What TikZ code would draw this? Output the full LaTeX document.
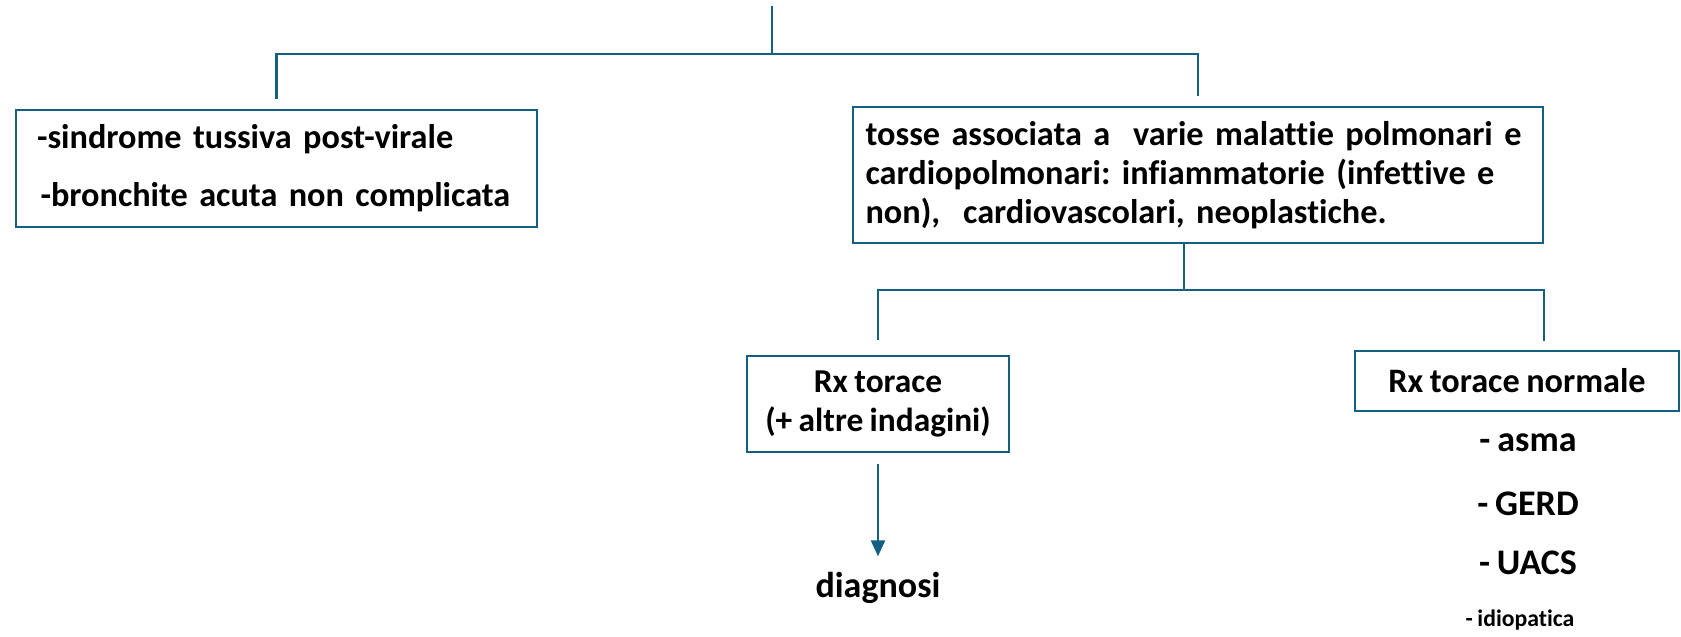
\documentclass[tikz,border=0pt]{standalone}
\usepackage{fontspec}
\setmainfont{Carlito}[Ligatures=NoCommon, WordSpace=0.85]
\frenchspacing
\usetikzlibrary{arrows.meta, positioning}
\definecolor{linea}{HTML}{156082}

\begin{document}
\begin{tikzpicture}[x=0.02cm, y=-0.02cm, line width=1.2pt, draw=linea,
                    >={Triangle[width=8pt, length=9pt]}]
  \tikzstyle{box}=[draw=linea, line width=1.2pt, inner ysep=0pt, text=black]
  \tikzstyle{voce}=[inner sep=0pt, text=black, font=\fontsize{20.5}{22}\selectfont\bfseries]

  \useasboundingbox (0,0) rectangle (1681,636);

  \node[box, minimum height=2.34cm, text width=9.58cm, inner xsep=0.42cm, align=left,
        font=\fontsize{19.5}{33}\selectfont\bfseries] (A) at (276.5,168.5)
       {-sindrome tussiva post-virale\\\hspace{2pt}-bronchite acuta non complicata};
  \node[box, minimum height=2.72cm, text width=13.3cm, inner xsep=0.25cm, align=left,
        font=\fontsize{19.5}{22.2}\selectfont\bfseries] (B) at (1198,175)
       {tosse associata a~ varie malattie polmonari e\\
        cardiopolmonari: infiammatorie (infettive e\\
        non),~ cardiovascolari, neoplastiche.};
  \node[box, minimum width=5.24cm, minimum height=1.92cm, align=center,
        font=\fontsize{19}{22.2}\selectfont\bfseries] (C) at (878,404)
       {Rx torace\\(+ altre indagini)};
  \node[box, minimum width=6.48cm, minimum height=1.2cm, align=center,
        font=\fontsize{19.5}{22}\selectfont\bfseries] (D) at (1517,381) {Rx torace normale};

  \node[voce] (E) at (878,588)  {diagnosi};
  \node[voce] (F) at (1528,443) {- asma};
  \node[voce] (G) at (1528,504) {- GERD};
  \node[voce] (H) at (1528,563) {- UACS};
  \node[voce, font=\fontsize{13.5}{16}\selectfont\bfseries] (I) at (1520,620) {- idiopatica};

  \coordinate (T) at (772,6);
  \coordinate (J) at (772,54);
  \coordinate (K) at (1184,290);
  \coordinate (L) at (B.east |- K);

  % primo livello
  \draw (T) -- (J);
  \draw ([yshift=0.2cm]A.north) -- (A.north |- J) -- (B.north |- J) -- ([yshift=0.2cm]B.north);

  % secondo livello
  \draw (B.south -| K) -- (K);
  \draw ([yshift=0.3cm]C.north) -- (C.north |- K) -- (L) -- ++(0,51);
  \draw[->] ([yshift=-0.22cm]C.south) -- (E.north) [shorten >=0.3cm];
\end{tikzpicture}
\end{document}
